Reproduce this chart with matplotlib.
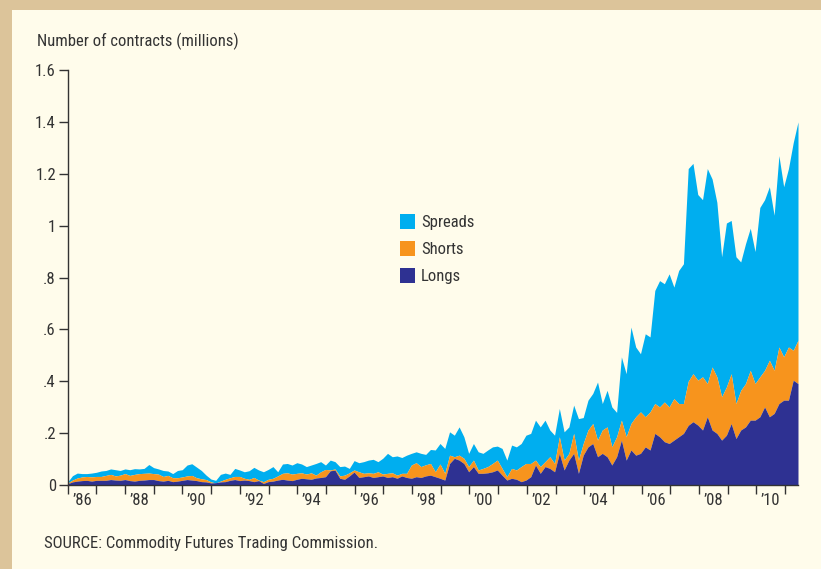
import numpy as np
import matplotlib
matplotlib.use("Agg")
import matplotlib.pyplot as plt
from matplotlib.patches import Rectangle
from matplotlib import font_manager as fm

# ---------------- data (cumulative stack levels) ----------------
# sampled every ~2 months from Jan 1986 to mid 2011
years = np.linspace(1986.0, 2011.45, 154)

# top of the "Longs" band
longs_top = [
    0.005, 0.012, 0.015, 0.017, 0.018, 0.015, 0.018, 0.018, 0.018, 0.021,
    0.019, 0.018, 0.021, 0.017, 0.015, 0.018, 0.019, 0.021, 0.021, 0.017,
    0.015, 0.018, 0.013, 0.015, 0.018, 0.021, 0.019, 0.017, 0.013, 0.012,
    0.008, 0.009, 0.012, 0.013, 0.018, 0.021, 0.017, 0.019, 0.017, 0.013,
    0.017, 0.006, 0.013, 0.015, 0.019, 0.022, 0.019, 0.017, 0.022, 0.026,
    0.024, 0.022, 0.027, 0.029, 0.032, 0.055, 0.057, 0.026, 0.022, 0.035,
    0.050, 0.029, 0.032, 0.035, 0.029, 0.032, 0.035, 0.029, 0.032, 0.026,
    0.035, 0.029, 0.026, 0.032, 0.029, 0.035, 0.038, 0.032, 0.026, 0.019,
    0.083, 0.103, 0.096, 0.083, 0.051, 0.071, 0.045, 0.045, 0.047, 0.051,
    0.058, 0.038, 0.019, 0.026, 0.022, 0.013, 0.019, 0.032, 0.077, 0.045,
    0.071, 0.064, 0.051, 0.122, 0.058, 0.096, 0.122, 0.045, 0.115, 0.147,
    0.160, 0.109, 0.122, 0.109, 0.077, 0.109, 0.173, 0.096, 0.135, 0.115,
    0.122, 0.147, 0.135, 0.199, 0.186, 0.167, 0.160, 0.173, 0.186, 0.199,
    0.230, 0.244, 0.231, 0.212, 0.263, 0.212, 0.199, 0.173, 0.192, 0.237,
    0.179, 0.212, 0.224, 0.250, 0.250, 0.263, 0.301, 0.263, 0.276, 0.314,
    0.327, 0.327, 0.404, 0.391,
]

# top of the "Shorts" band (longs + shorts)
shorts_top = [
    0.008, 0.019, 0.027, 0.031, 0.033, 0.031, 0.033, 0.033, 0.037, 0.041,
    0.035, 0.038, 0.044, 0.037, 0.041, 0.044, 0.045, 0.046, 0.044, 0.042,
    0.033, 0.037, 0.028, 0.028, 0.031, 0.035, 0.037, 0.028, 0.024, 0.021,
    0.012, 0.008, 0.015, 0.022, 0.028, 0.033, 0.033, 0.026, 0.022, 0.029,
    0.019, 0.013, 0.022, 0.026, 0.035, 0.045, 0.047, 0.042, 0.045, 0.047,
    0.042, 0.047, 0.038, 0.051, 0.060, 0.058, 0.062, 0.035, 0.038, 0.047,
    0.058, 0.051, 0.045, 0.047, 0.045, 0.051, 0.042, 0.045, 0.047, 0.038,
    0.045, 0.045, 0.077, 0.086, 0.071, 0.078, 0.083, 0.051, 0.081, 0.045,
    0.115, 0.109, 0.115, 0.103, 0.071, 0.096, 0.058, 0.064, 0.071, 0.083,
    0.096, 0.064, 0.032, 0.064, 0.058, 0.071, 0.083, 0.083, 0.096, 0.071,
    0.090, 0.109, 0.083, 0.186, 0.096, 0.122, 0.199, 0.096, 0.160, 0.212,
    0.237, 0.173, 0.212, 0.224, 0.147, 0.186, 0.250, 0.186, 0.237, 0.263,
    0.282, 0.263, 0.282, 0.314, 0.301, 0.320, 0.301, 0.333, 0.314, 0.314,
    0.400, 0.429, 0.404, 0.417, 0.391, 0.455, 0.417, 0.340, 0.378, 0.429,
    0.314, 0.365, 0.391, 0.442, 0.391, 0.417, 0.442, 0.481, 0.442, 0.532,
    0.494, 0.532, 0.519, 0.558,
]

# top of the "Spreads" band (total open interest)
spreads_top = [
    0.012, 0.036, 0.046, 0.044, 0.044, 0.046, 0.049, 0.054, 0.056, 0.062,
    0.059, 0.056, 0.062, 0.059, 0.063, 0.062, 0.064, 0.079, 0.067, 0.062,
    0.056, 0.054, 0.044, 0.056, 0.059, 0.077, 0.082, 0.069, 0.056, 0.038,
    0.023, 0.018, 0.041, 0.046, 0.041, 0.064, 0.058, 0.051, 0.055, 0.068,
    0.058, 0.051, 0.060, 0.071, 0.051, 0.081, 0.083, 0.077, 0.086, 0.081,
    0.071, 0.077, 0.083, 0.090, 0.077, 0.096, 0.090, 0.071, 0.073, 0.064,
    0.094, 0.086, 0.090, 0.096, 0.099, 0.090, 0.103, 0.122, 0.109, 0.112,
    0.106, 0.115, 0.122, 0.128, 0.122, 0.118, 0.137, 0.135, 0.160, 0.141,
    0.205, 0.192, 0.224, 0.186, 0.122, 0.160, 0.128, 0.122, 0.135, 0.147,
    0.150, 0.141, 0.096, 0.154, 0.147, 0.160, 0.192, 0.199, 0.250, 0.224,
    0.250, 0.212, 0.192, 0.295, 0.205, 0.224, 0.308, 0.256, 0.260, 0.327,
    0.353, 0.397, 0.314, 0.365, 0.301, 0.280, 0.494, 0.429, 0.609, 0.532,
    0.506, 0.583, 0.571, 0.750, 0.788, 0.776, 0.814, 0.763, 0.827, 0.853,
    1.220, 1.240, 1.120, 1.100, 1.220, 1.180, 1.090, 0.880, 1.010, 1.020,
    0.880, 0.860, 0.930, 0.990, 0.900, 1.070, 1.100, 1.150, 1.040, 1.270,
    1.150, 1.220, 1.320, 1.400,
]

series_names = ["Spreads", "Shorts", "Longs"]
y_ticks = [0, 0.2, 0.4, 0.6, 0.8, 1.0, 1.2, 1.4, 1.6]
y_tick_labels = ["0", ".2", ".4", ".6", ".8", "1", "1.2", "1.4", "1.6"]
year_ticks = list(range(1986, 2012))
label_years = list(range(1986, 2011, 2))
x_tick_labels = ["\u2019%02d" % (y % 100) for y in label_years]

# ---------------- font: prefer a condensed sans (reference uses a condensed grotesque) ----
def pick_font():
    entries = fm.fontManager.ttflist
    prefs = ["Roboto Condensed", "Open Sans Condensed", "Liberation Sans Narrow",
             "DejaVu Sans Condensed", "Noto Sans Condensed", "Arial Narrow"]
    for p in prefs:
        for e in entries:
            if e.name == p and e.weight in (400, "normal", "regular") and e.style == "normal":
                return fm.FontProperties(fname=e.fname), True
    for e in entries:
        fn = e.fname.lower()
        if ("condensed" in fn or "narrow" in fn) and "bold" not in fn and "italic" not in fn \
                and "oblique" not in fn and "light" not in fn and "semi" not in fn \
                and "extra" not in fn and "medium" not in fn and "thin" not in fn \
                and "black" not in fn and "mono" not in fn and "serif" not in fn:
            return fm.FontProperties(fname=e.fname), True
    return fm.FontProperties(family="Liberation Sans"), False

FONT, CONDENSED = pick_font()
FS = 12 if CONDENSED else 10.3

# ---------------- style ----------------
CREAM = "#FFFCEB"
TAN = "#DCC49A"
C_SPREADS = "#00AEEF"
C_SHORTS = "#F7941D"
C_LONGS = "#2E3192"
INK = "#333333"
colors = {"Spreads": C_SPREADS, "Shorts": C_SHORTS, "Longs": C_LONGS}

W, H = 821, 569
fig = plt.figure(figsize=(W / 100, H / 100), dpi=100, facecolor=CREAM)

# decorative tan frame (top and left)
fig.patches.append(Rectangle((0, 1 - 10 / H), 1, 10 / H, transform=fig.transFigure,
                             facecolor=TAN, edgecolor="none", zorder=0))
fig.patches.append(Rectangle((0, 0), 12 / W, 1, transform=fig.transFigure,
                             facecolor=TAN, edgecolor="none", zorder=0))

x0, x1 = 67.7, 798.0
y0, y1 = 485.0, 70.0
ax = fig.add_axes([x0 / W, (H - y0) / H, (x1 - x0) / W, (y0 - y1) / H])
ax.set_facecolor("none")

ax.fill_between(years, shorts_top, spreads_top, color=C_SPREADS, lw=0)
ax.fill_between(years, longs_top, shorts_top, color=C_SHORTS, lw=0)
ax.fill_between(years, 0, longs_top, color=C_LONGS, lw=0)

ax.set_xlim(1986.0, 2011.45)
ax.set_ylim(0, 1.6)

for s in ["top", "right"]:
    ax.spines[s].set_visible(False)
for s in ["left", "bottom"]:
    ax.spines[s].set_color(INK)
    ax.spines[s].set_linewidth(1.0)

ax.set_yticks(y_ticks)
ax.set_yticklabels(y_tick_labels)
ax.tick_params(axis="y", direction="out", length=6.5, width=1.0, color=INK,
               labelcolor=INK, pad=2)

ax.set_xticks(year_ticks)
ax.set_xticklabels([])
ax.set_xticks([y + 0.5 for y in label_years], minor=True)
ax.set_xticklabels(x_tick_labels, minor=True)
ax.tick_params(axis="x", which="major", direction="out", length=6.5, width=1.0, color=INK)
ax.tick_params(axis="x", which="minor", length=0, labelcolor=INK, pad=6)

for lab in ax.get_yticklabels() + ax.get_xticklabels(minor=True):
    lab.set_fontproperties(FONT)
    lab.set_fontsize(FS)

# titles
fig.text(37 / W, 1 - 46.5 / H, "Number of contracts (millions)", fontproperties=FONT,
         fontsize=FS, color=INK, ha="left", va="baseline")
fig.text(44 / W, 1 - 548 / H, "SOURCE: Commodity Futures Trading Commission.",
         fontproperties=FONT, fontsize=FS, color=INK, ha="left", va="baseline")

# legend (manual, matching the reference placement)
legend_rows = [(214, 227.5), (241, 254.5), (268, 281.5)]
for name, (top, base) in zip(series_names, legend_rows):
    fig.patches.append(Rectangle((400 / W, 1 - (top + 15) / H), 15 / W, 15 / H,
                                 transform=fig.transFigure, facecolor=colors[name],
                                 edgecolor="none", zorder=3))
    fig.text(421 / W, 1 - base / H, name, fontproperties=FONT, fontsize=FS, color=INK,
             ha="left", va="baseline")

fig.savefig("out.png", dpi=100, facecolor=CREAM)
